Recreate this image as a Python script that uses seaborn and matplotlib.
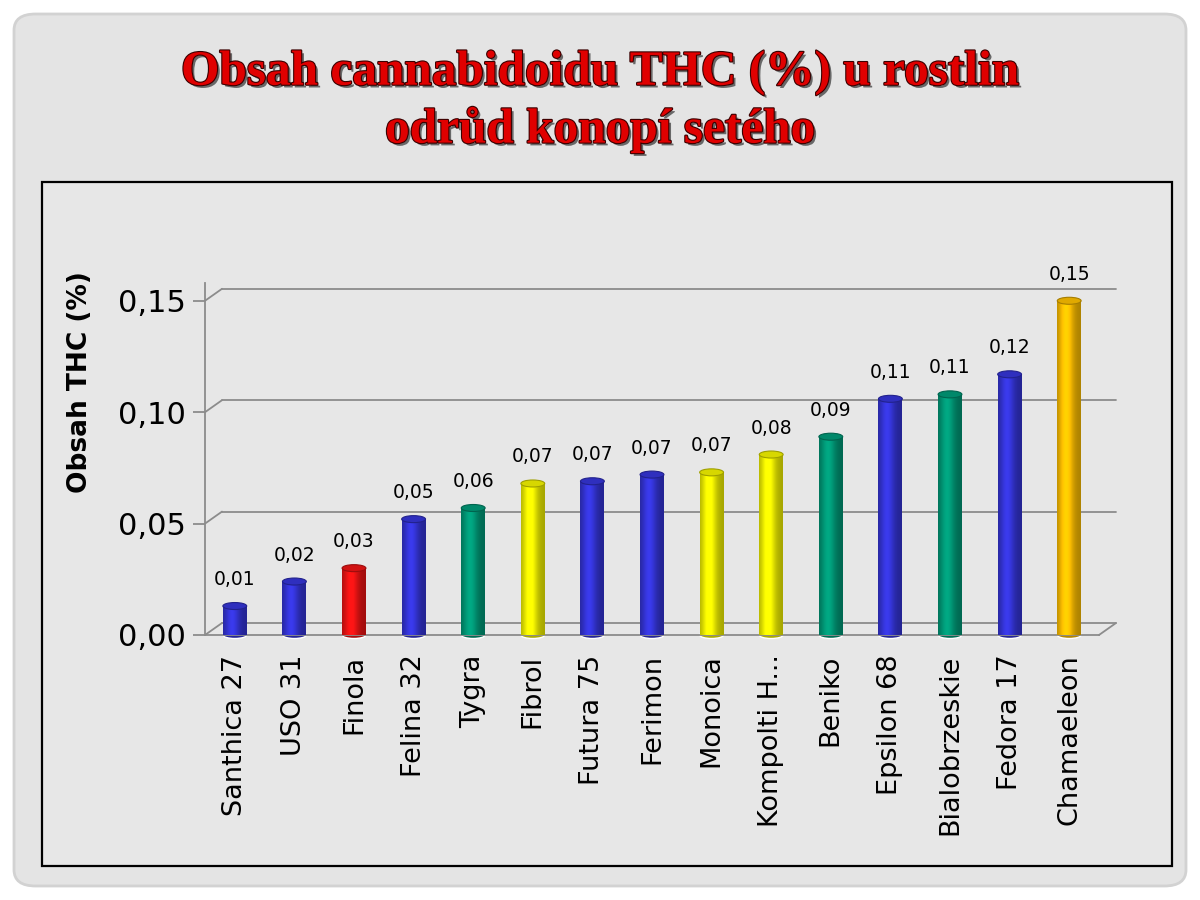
import numpy as np
import pandas as pd
import seaborn as sns
import matplotlib.pyplot as plt
import matplotlib.colors as mcolors
import matplotlib.patheffects as pe
from matplotlib.patches import Ellipse, FancyBboxPatch, Rectangle

# data
varieties = ['Santhica 27', 'USO 31', 'Finola', 'Felina 32', 'Tygra', 'Fibrol',
             'Futura 75', 'Ferimon', 'Monoica', 'Kompolti H...', 'Beniko',
             'Epsilon 68', 'Bialobrzeskie', 'Fedora 17', 'Chamaeleon']
thc = [0.013, 0.024, 0.030, 0.052, 0.057, 0.068, 0.069, 0.072, 0.073, 0.081,
       0.089, 0.106, 0.108, 0.117, 0.150]
groups = ['blue', 'blue', 'red', 'blue', 'green', 'yellow', 'blue', 'blue',
          'yellow', 'yellow', 'green', 'blue', 'green', 'blue', 'orange']
yticks = [0.00, 0.05, 0.10, 0.15]

group_colors = {'blue': '#3535d8', 'red': '#ee1414', 'green': '#009a78',
                'yellow': '#f4f400', 'orange': '#ffc000'}

df = pd.DataFrame({'odruda': varieties, 'thc': thc, 'group': groups})

sns.set_theme(style='white')
plt.rcParams['font.family'] = ['DejaVu Sans']
plt.rcParams['text.color'] = 'black'
plt.rcParams['axes.labelcolor'] = 'black'
plt.rcParams['xtick.labelcolor'] = 'black'
plt.rcParams['ytick.labelcolor'] = 'black'

fig = plt.figure(figsize=(12, 9), dpi=100)
fig.patch.set_facecolor('white')

# slide panel and chart frame (behind the axes)
fig.patches.append(FancyBboxPatch((14 / 1200, 14 / 900), 1172 / 1200, 872 / 900,
                                  boxstyle='round,pad=0,rounding_size=0.018',
                                  transform=fig.transFigure, facecolor='#e4e4e4',
                                  edgecolor='#d2d2d2', linewidth=2, zorder=-3))
fig.patches.append(Rectangle((42 / 1200, 34 / 900), 1130 / 1200, 684 / 900,
                             transform=fig.transFigure, facecolor='#e7e7e7',
                             edgecolor='black', linewidth=1.6, zorder=-2))

title_fx = [pe.withSimplePatchShadow(offset=(2, -2), shadow_rgbFace='#333333', alpha=0.7),
            pe.Stroke(linewidth=1.6, foreground='#3a0000'), pe.Normal()]
for txt, yy in [('Obsah cannabidoidu THC (%) u rostlin', 0.919),
                ('odrůd konopí setého', 0.856)]:
    fig.text(0.5, yy, txt, ha='center', va='center', fontsize=35.5, color='#e00000',
             family='Liberation Serif', fontweight='bold', path_effects=title_fx)

ax = fig.add_axes([205 / 1200, 265 / 900, 894 / 1200, 356.5 / 900])
ax.set_facecolor('none')
palette = [group_colors[g] for g in groups]
sns.barplot(data=df, x='odruda', y='thc', hue='odruda', palette=palette,
            legend=False, width=0.4, ax=ax, zorder=3, linewidth=0)

ax.set_xlim(-0.5, len(varieties) - 0.5)
ax.set_ylim(0, 0.16)

# pseudo-3D back wall / floor
dx = 17 / 59.6
dy = 12 / (356.5 / 0.16)
grid_c = '#8c8c8c'
for t in yticks:
    ax.plot([-0.5 + dx, len(varieties) - 0.5 + dx], [t + dy, t + dy], color=grid_c,
            lw=1.3, clip_on=False, zorder=1)
    ax.plot([-0.5, -0.5 + dx], [t, t + dy], color=grid_c, lw=1.3, clip_on=False, zorder=1)
ax.plot([len(varieties) - 0.5, len(varieties) - 0.5 + dx], [0, dy], color=grid_c,
        lw=1.3, clip_on=False, zorder=1)

# cylinder shading
tt = np.linspace(0, 1, 80)
prof = 0.68 + 0.42 * np.exp(-((tt - 0.38) / 0.3) ** 2)
ppx = 356.5 / 0.16
for patch, g in zip(ax.patches, groups):
    base = np.array(mcolors.to_rgb(group_colors[g]))
    x0, w, h = patch.get_x(), patch.get_width(), patch.get_height()
    img = np.clip(base[None, None, :] * prof[None, :, None], 0, 1)
    im = ax.imshow(img, extent=[x0, x0 + w, 0, h], aspect='auto', zorder=4)
    im.set_clip_path(patch)
    eh = 7 / ppx
    ax.add_patch(Ellipse((x0 + w / 2, 0), w, eh, facecolor=base * 0.7, zorder=2.5, clip_on=False))
    ax.add_patch(Ellipse((x0 + w / 2, h), w, eh, facecolor=np.clip(base * 0.88, 0, 1),
                         edgecolor=base * 0.65, lw=0.8, zorder=5))
    ax.text(x0 + w / 2, h + 17 / ppx, f'{h:.2f}'.replace('.', ','), ha='center',
            va='bottom', fontsize=13.5, color='black', zorder=6)

ax.set_xlim(-0.5, len(varieties) - 0.5)
ax.set_ylim(0, 0.16)

for s in ['top', 'right']:
    ax.spines[s].set_visible(False)
ax.spines['left'].set_bounds(0, 0.158)
ax.spines['left'].set_color(grid_c)
ax.spines['bottom'].set_color(grid_c)
ax.spines['left'].set_linewidth(1.3)
ax.spines['bottom'].set_linewidth(1.3)

ax.set_yticks(yticks)
ax.set_yticklabels([f'{v:.2f}'.replace('.', ',') for v in yticks], fontsize=22)
ax.set_xticks(range(len(varieties)))
ax.set_xticklabels(varieties, rotation=90, fontsize=19.5)
ax.set_xticks(np.arange(-0.5, len(varieties)), minor=True)
ax.tick_params(axis='x', which='major', length=0, pad=14)
ax.tick_params(axis='x', which='minor', length=11, width=1.3, color=grid_c, direction='out')
ax.tick_params(axis='y', length=9, width=1.3, color=grid_c, direction='out', left=True, pad=5)
ax.set_xlabel('')
ax.set_ylabel('Obsah THC (%)', fontsize=19, fontweight='bold')
ax.yaxis.set_label_coords(-0.125, 0.71)

fig.savefig('out.png', dpi=100)
